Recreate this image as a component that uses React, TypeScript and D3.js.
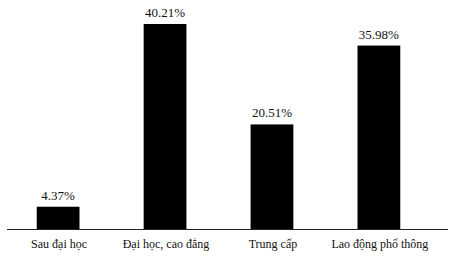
import React from 'react';
import * as d3 from 'd3';

// data
const categories = ['Sau đại học', 'Đại học, cao đẳng', 'Trung cấp', 'Lao động phổ thông'];
const values = [4.37, 40.21, 20.51, 35.98];
const valueLabels = ['4.37%', '40.21%', '20.51%', '35.98%'];

const width = 472;
const height = 269;
const baseY = 229;

const App: React.FC = () => {
  const x = d3.scaleBand<string>()
    .domain(categories)
    .range([10, 427])
    .paddingInner(0.6)
    .paddingOuter(0.25);

  const y = d3.scaleLinear()
    .domain([0, d3.max(values) || 0])
    .range([baseY, 24]);

  const font = 'Times New Roman, Liberation Serif, DejaVu Serif, serif';

  return (
    <svg
      width={width}
      height={height}
      style={{ position: 'fixed', left: 0, top: 0, background: '#fff' }}
    >
      {categories.map((c, i) => {
        const bx = x(c) || 0;
        const cx = bx + x.bandwidth() / 2;
        return (
          <g key={c}>
            <rect
              x={bx}
              y={y(values[i])}
              width={x.bandwidth()}
              height={baseY - y(values[i])}
              fill="#000"
            />
            <text
              x={cx}
              y={y(values[i]) - 7}
              textAnchor="middle"
              style={{ fontFamily: font }}
              fontSize={13}
              fill="#111"
            >
              {valueLabels[i]}
            </text>
            <text
              x={cx + 1}
              y={248}
              textAnchor="middle"
              style={{ fontFamily: font }}
              fontSize={12}
              fill="#111"
            >
              {c}
            </text>
          </g>
        );
      })}
      <line x1={7} x2={448} y1={baseY + 0.5} y2={baseY + 0.5} stroke="#222" strokeWidth={1} />
    </svg>
  );
};

export default App;
